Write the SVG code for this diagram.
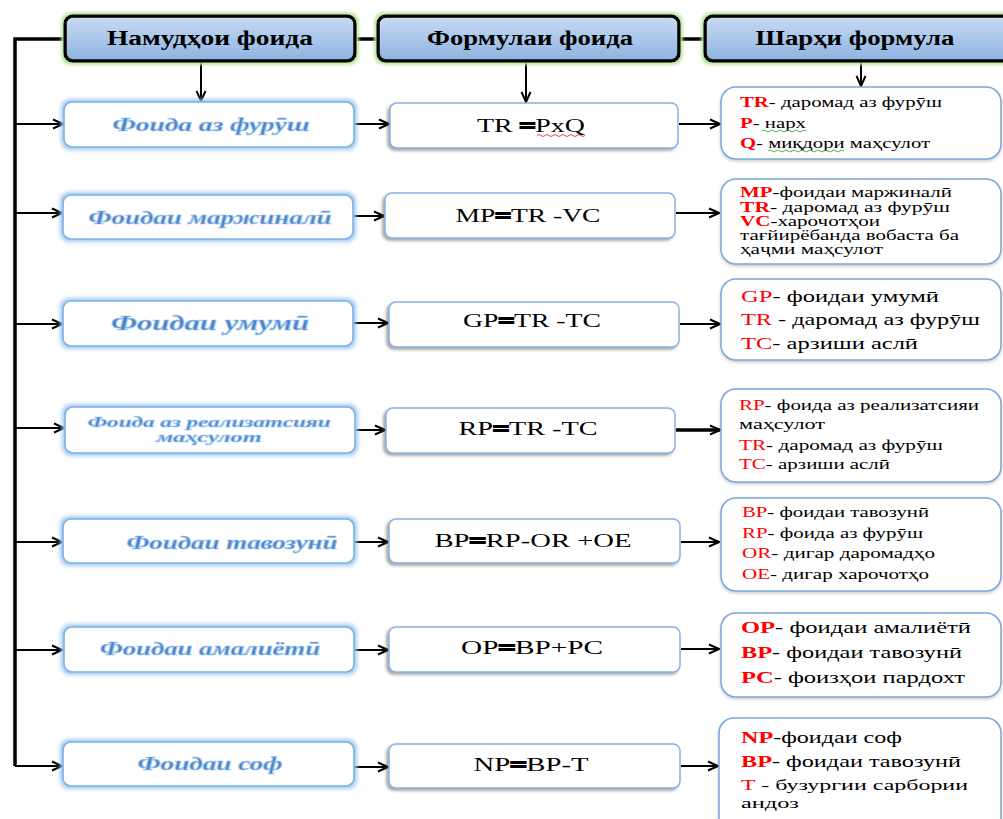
<svg xmlns="http://www.w3.org/2000/svg" width="1003" height="819" viewBox="0 0 1003 819">
<defs>
<style>
.hdr{fill:url(#hg);stroke:#000;stroke-width:3.5}
.ht{font-family:"Liberation Serif",serif;font-weight:bold;font-size:20px;fill:#000;text-anchor:middle}
.lb{fill:#fff;stroke:#7fb0e3;stroke-width:1.6}
.lt{font-family:"Liberation Serif",serif;font-weight:bold;font-style:italic;fill:#4a82c9;stroke:#9fc6ef;stroke-width:0.7;text-anchor:middle}
.mb{fill:#fff;stroke:#86b3e3;stroke-width:1.5}
.mt{font-family:"Liberation Serif",serif;font-size:19px;fill:#000;text-anchor:middle}
.eq{stroke:#000;stroke-width:2}
.rb{fill:#fff;stroke:#7aa8d8;stroke-width:1.5}
.rt{font-family:"Liberation Serif",serif;fill:#000}
.r{fill:#ff0000}
.b{font-weight:bold}
.cn{fill:none;stroke:#000;stroke-width:2;marker-end:url(#ah)}
.tk{fill:none;stroke:#000;stroke-width:3.5}
</style>
<linearGradient id="hg" x1="0" y1="0" x2="0" y2="1"><stop offset="0" stop-color="#c8dbf2"/><stop offset="1" stop-color="#8db3e2"/></linearGradient>
<filter id="gg" x="-5%" y="-25%" width="110%" height="150%"><feMorphology in="SourceAlpha" operator="dilate" radius="2" result="d"/><feGaussianBlur in="d" stdDeviation="1.5" result="b"/><feFlood flood-color="#b9e59c"/><feComposite in2="b" operator="in" result="g"/><feMerge><feMergeNode in="g"/><feMergeNode in="SourceGraphic"/></feMerge></filter>
<filter id="bg" x="-5%" y="-25%" width="110%" height="150%"><feMorphology in="SourceAlpha" operator="dilate" radius="1.5" result="d"/><feGaussianBlur in="d" stdDeviation="2" result="b"/><feFlood flood-color="#9cc6f0"/><feComposite in2="b" operator="in" result="g"/><feMerge><feMergeNode in="g"/><feMergeNode in="SourceGraphic"/></feMerge></filter>
<filter id="sh" x="-5%" y="-20%" width="110%" height="150%"><feDropShadow dx="-2" dy="2" stdDeviation="1.5" flood-color="#555" flood-opacity="0.55"/></filter>
<filter id="sr" x="-5%" y="-10%" width="110%" height="130%"><feDropShadow dx="0" dy="1.5" stdDeviation="1.5" flood-color="#777" flood-opacity="0.4"/></filter>
<marker id="ah" viewBox="0 0 12 12" refX="11" refY="6" markerWidth="12" markerHeight="12" markerUnits="userSpaceOnUse" orient="auto"><path d="M1,1.5 L11,6 L1,10.5" fill="none" stroke="#000" stroke-width="2"/></marker>
</defs>
<rect width="1003" height="819" fill="#fff"/>

<g id="connectors">
<path class="tk" d="M64,39 H15 V766"/>
<path class="tk" d="M355,39 H378"/>
<path class="tk" d="M680,39 H704"/>
<path class="cn" d="M201,61 V101"/>
<path class="cn" d="M526,61 V102"/>
<path class="cn" d="M861,61 V86"/>
<path class="cn" d="M15,124 H63"/>
<path class="cn" d="M15,213 H62"/>
<path class="cn" d="M15,324 H62"/>
<path class="cn" d="M15,428 H64"/>
<path class="cn" d="M15,542 H62"/>
<path class="cn" d="M15,650 H62"/>
<path class="cn" d="M15,766 H62"/>
<path class="cn" d="M355,124 H389"/>
<path class="cn" d="M354,216 H384"/>
<path class="cn" d="M354,323 H388"/>
<path class="cn" d="M356,430 H385"/>
<path class="cn" d="M355,542 H388"/>
<path class="cn" d="M355,650 H388"/>
<path class="cn" d="M354,767 H388"/>
<path class="cn" d="M679,124 H720"/>
<path class="cn" d="M676,213 H719"/>
<path class="cn" d="M680,324 H720"/>
<path class="cn" d="M676,430 H720" style="stroke-width:3.5"/>
<path class="cn" d="M681,542 H719"/>
<path class="cn" d="M681,649 H719"/>
<path class="cn" d="M681,766 H718"/>
</g>

<g id="header-types"><rect class="hdr" filter="url(#gg)" x="65" y="16" width="290" height="45" rx="8"/><text class="ht" x="210" y="45" textLength="206" lengthAdjust="spacingAndGlyphs">Намудҳои фоида</text></g>
<g id="header-formula"><rect class="hdr" filter="url(#gg)" x="378" y="16" width="301" height="45" rx="8"/><text class="ht" x="530" y="45" textLength="206" lengthAdjust="spacingAndGlyphs">Формулаи фоида</text></g>
<g id="header-desc"><rect class="hdr" filter="url(#gg)" x="705" y="16" width="310" height="45" rx="8"/><text class="ht" x="855" y="45" textLength="199" lengthAdjust="spacingAndGlyphs">Шарҳи формула</text></g>

<g id="type-1"><rect class="lb" filter="url(#bg)" x="64" y="102" width="290" height="45" rx="8"/><text class="lt" x="211" y="131" font-size="19" textLength="197" lengthAdjust="spacingAndGlyphs">Фоида аз фурӯш</text></g>
<g id="type-2"><rect class="lb" filter="url(#bg)" x="63" y="195" width="290" height="44" rx="8"/><text class="lt" x="210" y="224" font-size="18" textLength="243" lengthAdjust="spacingAndGlyphs">Фоидаи маржиналӣ</text></g>
<g id="type-3"><rect class="lb" filter="url(#bg)" x="63" y="301" width="290" height="45" rx="8"/><text class="lt" x="210" y="330" font-size="20" textLength="198" lengthAdjust="spacingAndGlyphs">Фоидаи умумӣ</text></g>
<g id="type-4"><rect class="lb" filter="url(#bg)" x="65" y="407" width="290" height="46" rx="8"/><text class="lt" x="209" y="427" font-size="15" textLength="243" lengthAdjust="spacingAndGlyphs">Фоида аз реализатсияи</text><text class="lt" x="209" y="442" font-size="15" textLength="105" lengthAdjust="spacingAndGlyphs">маҳсулот</text></g>
<g id="type-5"><rect class="lb" filter="url(#bg)" x="63" y="519" width="291" height="44" rx="8"/><text class="lt" x="232" y="549" font-size="18" textLength="211" lengthAdjust="spacingAndGlyphs">Фоидаи тавозунӣ</text></g>
<g id="type-6"><rect class="lb" filter="url(#bg)" x="64" y="627" width="290" height="45" rx="8"/><text class="lt" x="210" y="655" font-size="18" textLength="220" lengthAdjust="spacingAndGlyphs">Фоидаи амалиётӣ</text></g>
<g id="type-7"><rect class="lb" filter="url(#bg)" x="63" y="742" width="291" height="44" rx="8"/><text class="lt" x="210" y="770" font-size="18" textLength="145" lengthAdjust="spacingAndGlyphs">Фоидаи соф</text></g>

<g id="formula-1"><rect class="mb" filter="url(#sh)" x="390" y="103" width="288" height="45" rx="7"/><text class="mt" x="531" y="132" textLength="108" lengthAdjust="spacingAndGlyphs">TR <tspan class="eq">=</tspan>PxQ</text><path d="M537,135.5 q2,-2 4,0 t4,0 t4,0 t4,0 t4,0 t4,0 t4,0 t4,0 t4,0 t4,0 t4,0 t4,0" fill="none" stroke="#e03030" stroke-width="0.9"/></g>
<g id="formula-2"><rect class="mb" filter="url(#sh)" x="385" y="193" width="290" height="45" rx="7"/><text class="mt" x="528" y="222" textLength="145" lengthAdjust="spacingAndGlyphs">MP<tspan class="eq">=</tspan>TR -VC</text></g>
<g id="formula-3"><rect class="mb" filter="url(#sh)" x="389" y="302" width="290" height="45" rx="7"/><text class="mt" x="532" y="327" textLength="138" lengthAdjust="spacingAndGlyphs">GP<tspan class="eq">=</tspan>TR -TC</text></g>
<g id="formula-4"><rect class="mb" filter="url(#sh)" x="386" y="408" width="289" height="45" rx="7"/><text class="mt" x="528" y="435" textLength="139" lengthAdjust="spacingAndGlyphs">RP<tspan class="eq">=</tspan>TR -TC</text></g>
<g id="formula-5"><rect class="mb" filter="url(#sh)" x="389" y="519" width="291" height="44" rx="7"/><text class="mt" x="533" y="547" textLength="197" lengthAdjust="spacingAndGlyphs">BP<tspan class="eq">=</tspan>RP-OR +OE</text></g>
<g id="formula-6"><rect class="mb" filter="url(#sh)" x="389" y="627" width="291" height="45" rx="7"/><text class="mt" x="532" y="654" textLength="142" lengthAdjust="spacingAndGlyphs">OP<tspan class="eq">=</tspan>BP+PC</text></g>
<g id="formula-7"><rect class="mb" filter="url(#sh)" x="389" y="744" width="291" height="44" rx="7"/><text class="mt" x="531" y="771" textLength="115" lengthAdjust="spacingAndGlyphs">NP<tspan class="eq">=</tspan>BP-T</text></g>

<g id="desc-1"><rect class="rb" filter="url(#sr)" x="721" y="87" width="280" height="72" rx="15"/>
<text class="rt" x="740" y="107" font-size="15" textLength="202" lengthAdjust="spacingAndGlyphs"><tspan class="r b">TR</tspan>- даромад аз фурӯш</text>
<text class="rt" x="740" y="128" font-size="15" textLength="66" lengthAdjust="spacingAndGlyphs"><tspan class="r b">P</tspan>- нарх</text>
<text class="rt" x="740" y="148" font-size="15" textLength="190" lengthAdjust="spacingAndGlyphs"><tspan class="r b">Q</tspan>- миқдори маҳсулот</text>
<path d="M762,131 q2,-2 4,0 t4,0 t4,0 t4,0 t4,0 t4,0 t4,0 t4,0 t4,0 t4,0 t4,0" fill="none" stroke="#3aa53a" stroke-width="0.9"/>
<path d="M768,151 q2,-2 4,0 t4,0 t4,0 t4,0 t4,0 t4,0 t4,0 t4,0 t4,0 t4,0 t4,0 t4,0 t4,0 t4,0 t4,0 t4,0 t4,0 t4,0 t4,0" fill="none" stroke="#3aa53a" stroke-width="0.9"/>
</g>
<g id="desc-2"><rect class="rb" filter="url(#sr)" x="721" y="179" width="280" height="85" rx="15"/>
<text class="rt" x="740" y="197" font-size="14" textLength="212" lengthAdjust="spacingAndGlyphs"><tspan class="r b">MP</tspan>-фоидаи маржиналӣ</text>
<text class="rt" x="740" y="212" font-size="14" textLength="210" lengthAdjust="spacingAndGlyphs"><tspan class="r b">TR</tspan>- даромад аз фурӯш</text>
<text class="rt" x="740" y="226" font-size="14" textLength="140" lengthAdjust="spacingAndGlyphs"><tspan class="r b">VC</tspan>-харочотҳои</text>
<text class="rt" x="740" y="240" font-size="14" textLength="219" lengthAdjust="spacingAndGlyphs">тағйирёбанда вобаста ба</text>
<text class="rt" x="740" y="254" font-size="14" textLength="143" lengthAdjust="spacingAndGlyphs">ҳаҷми маҳсулот</text>
</g>
<g id="desc-3"><rect class="rb" filter="url(#sr)" x="721" y="279" width="280" height="81" rx="15"/>
<text class="rt" x="741" y="302" font-size="17" textLength="198" lengthAdjust="spacingAndGlyphs"><tspan class="r">GP</tspan>- фоидаи умумӣ</text>
<text class="rt" x="741" y="325" font-size="17" textLength="239" lengthAdjust="spacingAndGlyphs"><tspan class="r">TR</tspan> - даромад аз фурӯш</text>
<text class="rt" x="741" y="349" font-size="17" textLength="177" lengthAdjust="spacingAndGlyphs"><tspan class="r">TC</tspan>- арзиши аслӣ</text>
</g>
<g id="desc-4"><rect class="rb" filter="url(#sr)" x="721" y="389" width="280" height="93" rx="15"/>
<text class="rt" x="739" y="410" font-size="14" textLength="240" lengthAdjust="spacingAndGlyphs"><tspan class="r">RP</tspan>- фоида аз реализатсияи</text>
<text class="rt" x="739" y="429" font-size="14" textLength="86" lengthAdjust="spacingAndGlyphs">маҳсулот</text>
<text class="rt" x="739" y="450" font-size="14" textLength="204" lengthAdjust="spacingAndGlyphs"><tspan class="r">TR</tspan>- даромад аз фурӯш</text>
<text class="rt" x="739" y="469" font-size="14" textLength="151" lengthAdjust="spacingAndGlyphs"><tspan class="r">TC</tspan>- арзиши аслӣ</text>
</g>
<g id="desc-5"><rect class="rb" filter="url(#sr)" x="721" y="498" width="280" height="93" rx="15"/>
<text class="rt" x="742" y="517" font-size="14" textLength="187" lengthAdjust="spacingAndGlyphs"><tspan class="r">BP</tspan>- фоидаи тавозунӣ</text>
<text class="rt" x="742" y="538" font-size="14" textLength="181" lengthAdjust="spacingAndGlyphs"><tspan class="r">RP</tspan>- фоида аз фурӯш</text>
<text class="rt" x="742" y="558" font-size="14" textLength="193" lengthAdjust="spacingAndGlyphs"><tspan class="r">OR</tspan>- дигар даромадҳо</text>
<text class="rt" x="742" y="579" font-size="14" textLength="187" lengthAdjust="spacingAndGlyphs"><tspan class="r">OE</tspan>- дигар харочотҳо</text>
</g>
<g id="desc-6"><rect class="rb" filter="url(#sr)" x="721" y="613" width="280" height="84" rx="15"/>
<text class="rt" x="741" y="633" font-size="17" textLength="230" lengthAdjust="spacingAndGlyphs"><tspan class="r b">OP</tspan>- фоидаи амалиётӣ</text>
<text class="rt" x="741" y="658" font-size="17" textLength="221" lengthAdjust="spacingAndGlyphs"><tspan class="r b">BP</tspan>- фоидаи тавозунӣ</text>
<text class="rt" x="741" y="683" font-size="17" textLength="224" lengthAdjust="spacingAndGlyphs"><tspan class="r b">PC</tspan>- фоизҳои пардохт</text>
</g>
<g id="desc-7"><rect class="rb" filter="url(#sr)" x="719" y="718" width="282" height="115" rx="15"/>
<text class="rt" x="741" y="743" font-size="17" textLength="161" lengthAdjust="spacingAndGlyphs"><tspan class="r b">NP</tspan>-фоидаи соф</text>
<text class="rt" x="741" y="767" font-size="17" textLength="220" lengthAdjust="spacingAndGlyphs"><tspan class="r b">BP</tspan>- фоидаи тавозунӣ</text>
<text class="rt" x="741" y="790" font-size="15" textLength="227" lengthAdjust="spacingAndGlyphs"><tspan class="r">T</tspan> - бузургии сарбории</text>
<text class="rt" x="741" y="808" font-size="15" textLength="58" lengthAdjust="spacingAndGlyphs">андоз</text>
</g>
</svg>
